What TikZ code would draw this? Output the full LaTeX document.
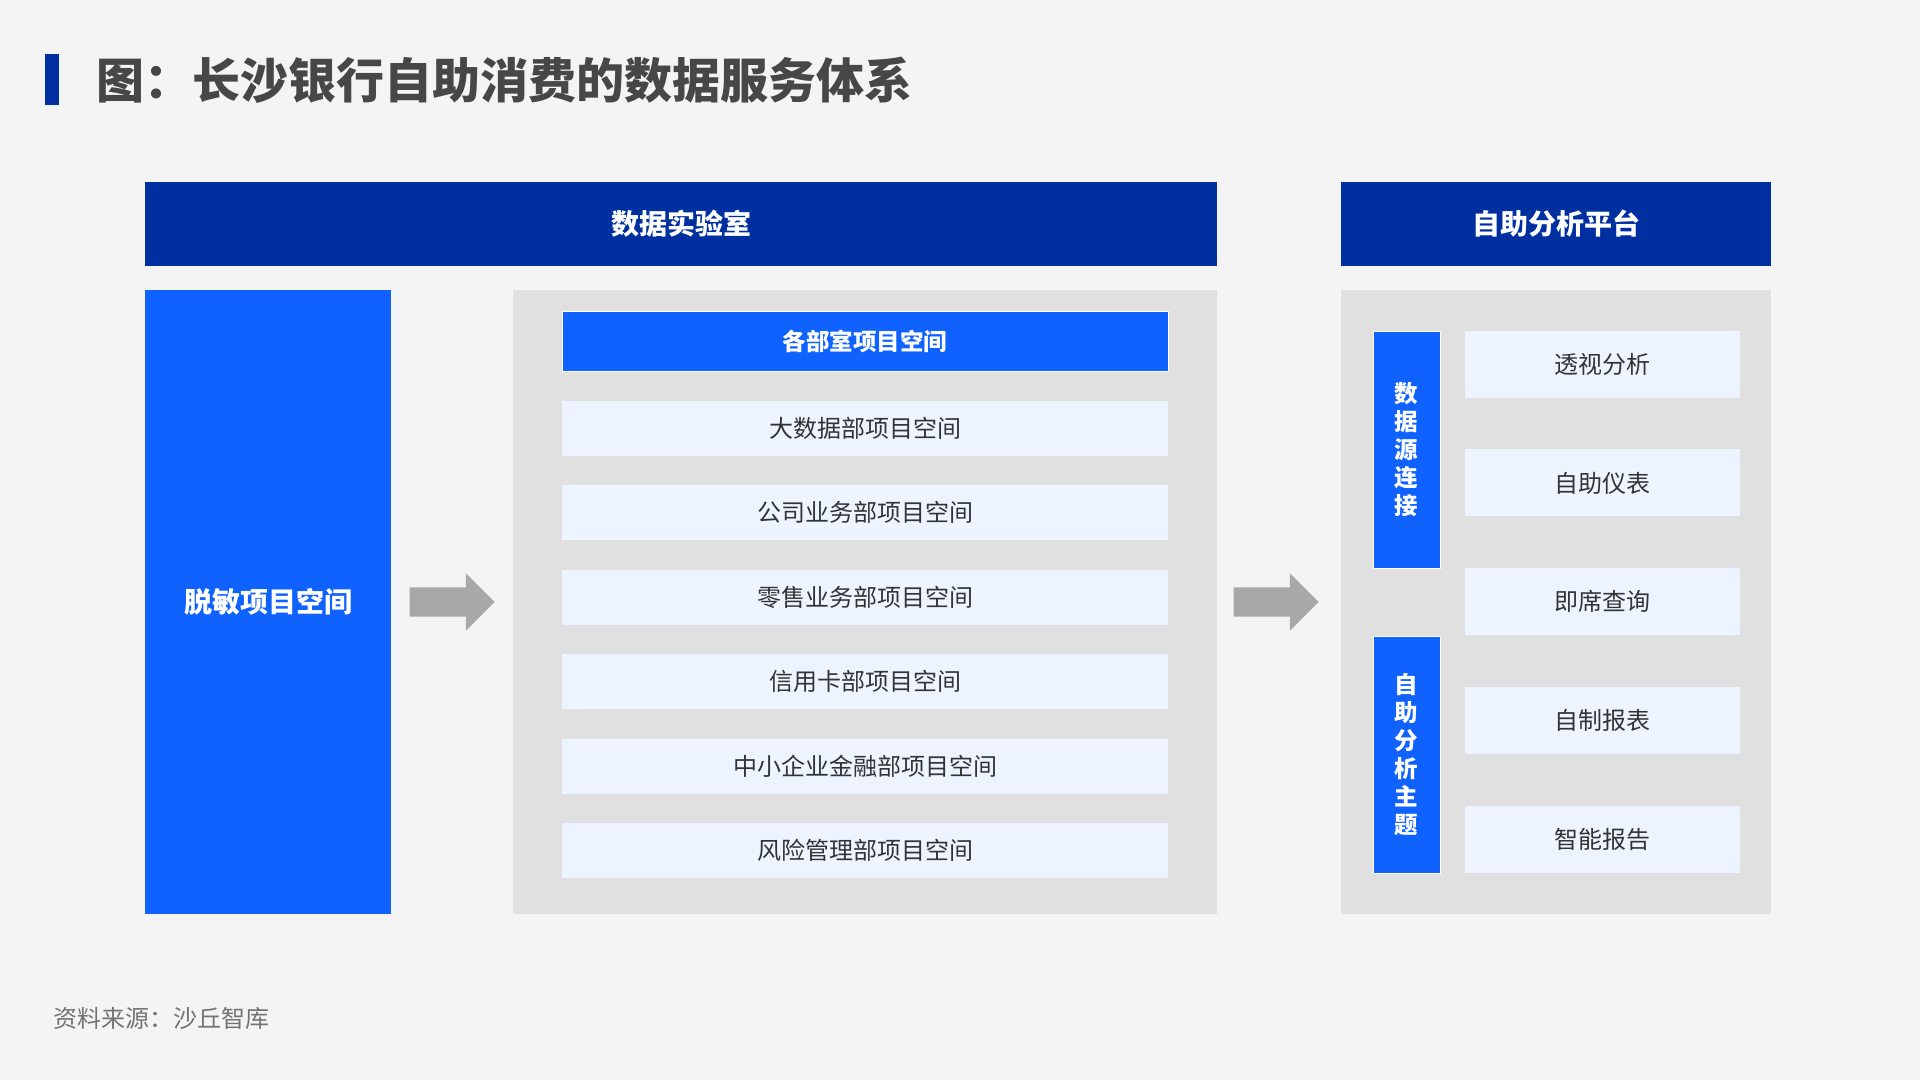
\documentclass[tikz,border=0pt]{standalone}
\usepackage{fontspec}
\setmainfont{Noto Sans CJK SC}
\usetikzlibrary{shapes.arrows,calc}

\definecolor{pagebg}{HTML}{F4F4F4}
\definecolor{navy}{HTML}{0030A0}
\definecolor{brightblue}{HTML}{0F62FE}
\definecolor{paleblue}{HTML}{EDF4FF}
\definecolor{panelgray}{HTML}{E0E0E0}
\definecolor{arrowgray}{HTML}{A8A8A8}
\definecolor{inkgray}{HTML}{333333}

\begin{document}
\begin{tikzpicture}[x=1pt,y=-1pt,
  header/.style={fill=navy,text=white,inner sep=0pt,minimum width=#1,minimum height=84pt,
    font=\fontsize{28}{33}\selectfont\bfseries},
  panel/.style={fill=panelgray,inner sep=0pt,minimum width=#1,minimum height=624pt},
  bluebox/.style={fill=brightblue,text=white,inner sep=0pt,font=\fontsize{23.5}{28}\selectfont\bfseries},
  item/.style={fill=paleblue,text=inkgray,inner sep=0pt,font=\fontsize{24}{28}\selectfont},
  blockarrow/.style={single arrow,fill=arrowgray,inner sep=0pt,minimum height=85pt,
    single arrow head extend=14pt,single arrow head indent=0pt,anchor=tip}]
  \fill[pagebg] (0,0) rectangle (1920,1080);
  \useasboundingbox (0,0) rectangle (1920,1080);

  % title
  \node[fill=navy,inner sep=0pt,minimum width=14pt,minimum height=51pt] (bar) at (52,79.5) {};
  \node[anchor=west,inner sep=0pt,text=inkgray!90!white,font=\fontsize{48}{56}\selectfont\bfseries]
    (title) at (96,80) {图：长沙银行自助消费的数据服务体系};

  % headers
  \node[header=1072pt] (lab) at (681,224) {数据实验室};
  \node[header=430pt] (plat) at (1556,224) {自助分析平台};

  % left column
  \node[bluebox,minimum width=246pt,minimum height=624pt,font=\fontsize{28}{33}\selectfont\bfseries]
    (mask) at (268,602) {脱敏项目空间};

  % middle panel
  \node[panel=704pt] (labpanel) at (865,602) {};
  \node[bluebox,draw=white,line width=1pt,minimum width=606pt,minimum height=60pt]
    (dept) at (865,341) {各部室项目空间};
  \foreach \name [count=\i from 0] in {大数据部项目空间,公司业务部项目空间,零售业务部项目空间,
      信用卡部项目空间,中小企业金融部项目空间,风险管理部项目空间}
    \node[item,minimum width=606pt,minimum height=55pt] (space\i) at (865,428+84.5*\i) {\name};

  % right panel
  \node[panel=430pt] (platpanel) at (1556,602) {};
  \node[bluebox,draw=white,line width=0.8pt,minimum width=67pt,minimum height=237pt,align=center]
    (source) at (1406.5,449.5) {数\\据\\源\\连\\接};
  \node[bluebox,draw=white,line width=0.8pt,minimum width=67pt,minimum height=237pt,align=center]
    (topic) at (1406.5,754.5) {自\\助\\分\\析\\主\\题};
  \foreach \name [count=\i from 0] in {透视分析,自助仪表,即席查询,自制报表,智能报告}
    \node[item,minimum width=275pt,minimum height=67pt] (tool\i) at (1602,364+118.9*\i) {\name};

  % arrows
  \node[blockarrow] (arrowA) at ($(labpanel.west)+(-18,0)$) {\rule{0pt}{29pt}};
  \node[blockarrow] (arrowB) at ($(platpanel.west)+(-22,0)$) {\rule{0pt}{29pt}};

  % source note
  \node[anchor=west,inner sep=0pt,text=black!55,font=\fontsize{24}{28}\selectfont]
    (note) at (53,1018) {资料来源：沙丘智库};
\end{tikzpicture}
\end{document}
